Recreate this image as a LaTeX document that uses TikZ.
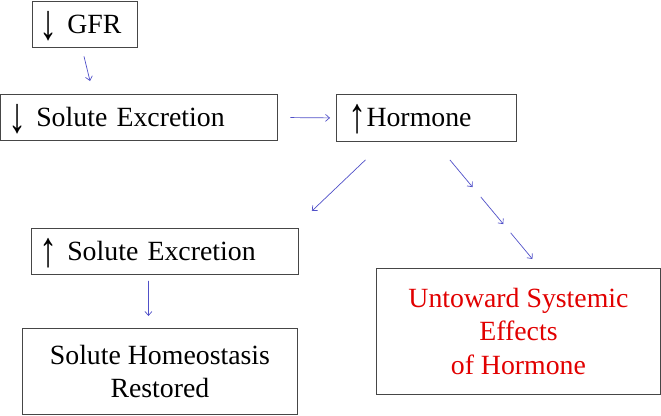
\documentclass[tikz,border=0pt]{standalone}
\usepackage{fontspec}
\usepackage{graphicx}
\setmainfont{Liberation Serif}
\usetikzlibrary{arrows.meta,calc}
\definecolor{conncol}{RGB}{80,80,200}
\definecolor{boxcol}{RGB}{70,70,70}
\definecolor{redtext}{RGB}{225,0,0}
\newcommand{\dnarr}{\smash{\raisebox{-6bp}{\scalebox{1.3}[1.8]{\bfseries ↓}}}}
\newcommand{\uparr}{\smash{\raisebox{-6bp}{\scalebox{1.3}[1.8]{\bfseries ↑}}}}
\tikzset{
  box/.style={draw=boxcol, line width=0.9bp, anchor=north west, inner ysep=0pt,
    font=\fontsize{27.8bp}{33.6bp}\selectfont},
  lbox/.style={box, align=left, text width=#1},
  cbox/.style={box, align=center},
  conn/.style={draw=conncol, line width=0.7bp, -{Straight Barb[length=4bp,width=7bp]}},
}
\begin{document}
\begin{tikzpicture}[x=1bp,y=-1bp]
\useasboundingbox (0,0) rectangle (661,415);
\node[lbox=90bp, inner xsep=5bp, minimum width=105bp, minimum height=46bp] (gfr) at (32,0.5) {\dnarr\ GFR};
\node[lbox=260bp, inner xsep=8bp, minimum width=273.5bp, minimum height=46bp] (se1) at (0.5,94) {\dnarr\ Solute Excretion};
\node[lbox=156bp, inner xsep=12bp, minimum width=172bp, minimum height=47bp] (horm) at (336,94) {\uparr Hormone};
\node[lbox=250bp, inner xsep=5bp, minimum width=267bp, minimum height=46bp] (se2) at (31,228) {\uparr\ Solute Excretion};
\node[cbox, minimum width=275bp, minimum height=86bp] (home) at (22,328) {Solute Homeostasis\\Restored};
\node[cbox, text=redtext, minimum width=284bp, minimum height=126bp] (unt) at (376,268) {Untoward Systemic\\Effects\\of Hormone};

\draw[conn] ([shift={(52,9)}]gfr.south west) -- ([shift={(89.5,-13)}]se1.north west);
\draw[conn, shorten <=13bp, shorten >=6bp] (se1.east) -- (horm.west);
\draw[conn] ([shift={(-61,18)}]horm.south) -- ([shift={(13,-17)}]se2.north east);
\coordinate (da) at ([shift={(-67,18)}]horm.south east);
\coordinate (db) at ([shift={(14,-9)}]unt.north);
\draw[conn] (da) -- ($(da)!0.275!(db)$);
\draw[conn] ($(da)!0.374!(db)$) -- ($(da)!0.648!(db)$);
\draw[conn] ($(da)!0.736!(db)$) -- (db);
\draw[conn] ([shift={(-16.5,6)}]se2.south) -- ([shift={(-11.5,-12)}]home.north);
\end{tikzpicture}
\end{document}
